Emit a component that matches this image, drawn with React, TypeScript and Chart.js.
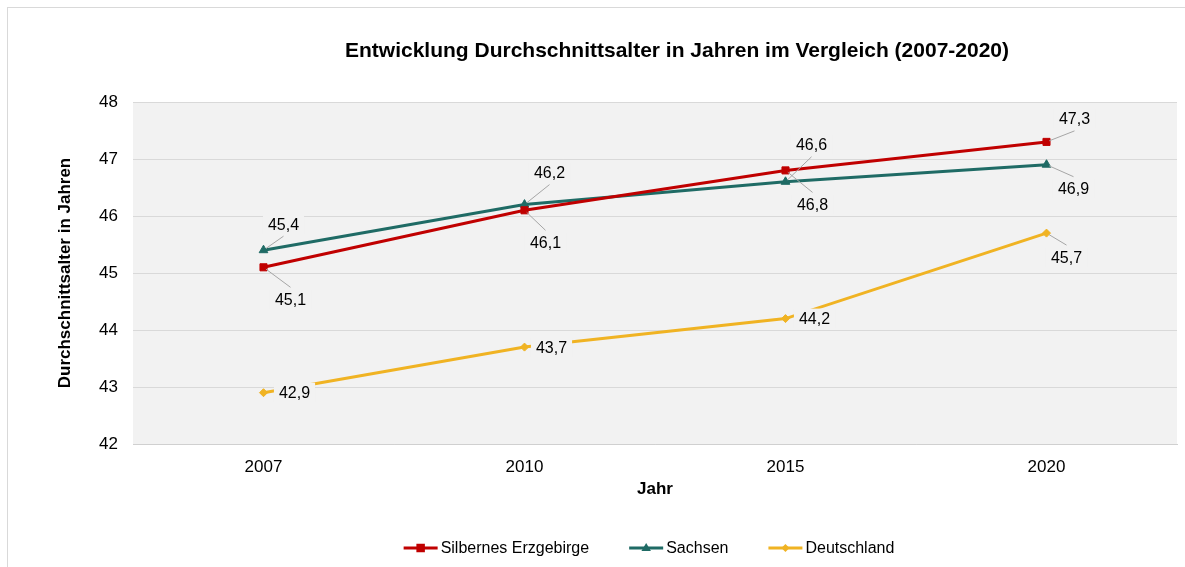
import React, { useEffect, useRef } from "react";
import { Chart, registerables } from "chart.js";

Chart.register(...registerables);

const years = ["2007", "2010", "2015", "2020"];
const silbernes = [45.1, 46.1, 46.8, 47.3];
const sachsen = [45.4, 46.2, 46.6, 46.9];
const deutschland = [42.9, 43.7, 44.2, 45.7];
const yMin = 42;
const yMax = 48;

const seriesNames = ["Silbernes Erzgebirge", "Sachsen", "Deutschland"];
const titleText = "Entwicklung Durchschnittsalter in Jahren im Vergleich (2007-2020)";
const yTitle = "Durchschnittsalter in Jahren";
const xTitle = "Jahr";

// label placement relative to point (style)
const labelOffsets = [
  [[27, 32], [21, 32], [27, 34], [28, -23]],
  [[20, -26], [25, -32], [26, -37], [27, 24]],
  [[31, 0], [27, 0], [29, 0], [20, 24]],
];

const COLORS = ["#c00000", "#1f6b65", "#f0b323"];
const STYLES = ["rect", "triangle", "rectRot"];
const RADII = [5, 5, 4];
const FONT = "'Liberation Sans', Arial, sans-serif";

const fmt = (v: number) => v.toFixed(1).replace(".", ",");

const bgPlugin = {
  id: "plotBg",
  beforeDraw(chart: any) {
    const { ctx, chartArea: a } = chart;
    ctx.save();
    ctx.fillStyle = "#f2f2f2";
    ctx.fillRect(a.left, a.top, a.right - a.left, a.bottom - a.top);
    ctx.restore();
  },
};

const titlePlugin = {
  id: "customTitle",
  afterDraw(chart: any) {
    const { ctx, chartArea: a } = chart;
    ctx.save();
    ctx.font = `bold 21px ${FONT}`;
    ctx.fillStyle = "#000";
    ctx.textAlign = "center";
    ctx.textBaseline = "middle";
    ctx.fillText(titleText, (a.left + a.right) / 2 + 22, 51);
    ctx.restore();
  },
};

const labelPlugin = {
  id: "dataLabels",
  afterDatasetsDraw(chart: any) {
    const { ctx } = chart;
    ctx.save();
    ctx.font = `16px ${FONT}`;
    chart.data.datasets.forEach((ds: any, di: number) => {
      const meta = chart.getDatasetMeta(di);
      meta.data.forEach((pt: any, i: number) => {
        const [dx, dy] = labelOffsets[di][i];
        const cx = pt.x + dx;
        const cy = pt.y + dy;
        const text = fmt(ds.data[i]);
        const w = ctx.measureText(text).width + 10;
        const h = 20;
        ctx.fillStyle = "#f2f2f2";
        ctx.fillRect(cx - w / 2, cy - h / 2, w, h);
        if (Math.abs(dy) > 10) {
          const ex = cx;
          const ey = cy - Math.sign(dy) * 12;
          const ang = Math.atan2(ey - pt.y, ex - pt.x);
          ctx.strokeStyle = "#a6a6a6";
          ctx.lineWidth = 1;
          ctx.beginPath();
          ctx.moveTo(pt.x + Math.cos(ang) * 3, pt.y + Math.sin(ang) * 3);
          ctx.lineTo(ex, ey);
          ctx.stroke();
        }
        ctx.fillStyle = "#000";
        ctx.textAlign = "center";
        ctx.textBaseline = "middle";
        ctx.fillText(text, cx, cy + 1);
      });
    });
    ctx.restore();
  },
};

function drawMarker(ctx: CanvasRenderingContext2D, style: string, r: number, x: number, y: number) {
  ctx.beginPath();
  if (style === "rect") {
    ctx.rect(x - r * 0.85, y - r * 0.85, r * 1.7, r * 1.7);
  } else if (style === "triangle") {
    ctx.moveTo(x, y - r);
    ctx.lineTo(x + r * 0.95, y + r * 0.6);
    ctx.lineTo(x - r * 0.95, y + r * 0.6);
    ctx.closePath();
  } else {
    ctx.moveTo(x, y - r);
    ctx.lineTo(x + r, y);
    ctx.lineTo(x, y + r);
    ctx.lineTo(x - r, y);
    ctx.closePath();
  }
  ctx.fill();
}

const legendPlugin = {
  id: "customLegend",
  afterDraw(chart: any) {
    const { ctx } = chart;
    ctx.save();
    ctx.font = `16px ${FONT}`;
    const lineLen = 34;
    const textGap = 3;
    const itemGap = 40;
    const widths = seriesNames.map((n) => lineLen + textGap + ctx.measureText(n).width);
    const total = widths.reduce((s, v) => s + v, 0) + itemGap * (widths.length - 1);
    let x = 649 - total / 2;
    const y = 548;
    seriesNames.forEach((name, i) => {
      ctx.strokeStyle = COLORS[i];
      ctx.lineWidth = 3;
      ctx.beginPath();
      ctx.moveTo(x, y);
      ctx.lineTo(x + lineLen, y);
      ctx.stroke();
      ctx.fillStyle = COLORS[i];
      drawMarker(ctx, STYLES[i], RADII[i], x + lineLen / 2, y);
      ctx.fillStyle = "#000";
      ctx.textAlign = "left";
      ctx.textBaseline = "middle";
      ctx.fillText(name, x + lineLen + textGap, y + 1);
      x += widths[i] + itemGap;
    });
    ctx.restore();
  },
};

export default function App() {
  const ref = useRef<HTMLCanvasElement | null>(null);
  useEffect(() => {
    if (!ref.current) return;
    const series = [silbernes, sachsen, deutschland];
    const chart = new Chart(ref.current, {
      type: "line",
      data: {
        labels: years,
        datasets: series.map((d, i) => ({
          label: seriesNames[i],
          data: d,
          borderColor: COLORS[i],
          backgroundColor: COLORS[i],
          borderWidth: 3,
          pointStyle: STYLES[i] as any,
          pointRadius: RADII[i],
          pointBorderWidth: 1,
          tension: 0,
          fill: false,
        })),
      },
      options: {
        responsive: false,
        animation: false,
        layout: { padding: { left: 50, top: 102, right: 8, bottom: 62 } },
        plugins: {
          legend: { display: false },
          title: { display: false },
          tooltip: { enabled: false },
        },
        scales: {
          x: {
            type: "category",
            offset: true,
            grid: { display: false, drawTicks: false },
            border: { display: true, color: "#d0d0d0", width: 1 },
            ticks: { color: "#000", font: { size: 17, family: FONT }, padding: 13 },
            title: {
              display: true,
              text: xTitle,
              color: "#000",
              font: { size: 17, weight: "bold", family: FONT },
              padding: { top: 4, bottom: 5 },
            },
            afterFit: (s: any) => {
              s.height = 61;
            },
          },
          y: {
            min: yMin,
            max: yMax,
            ticks: { stepSize: 1, color: "#000", font: { size: 17, family: FONT }, padding: 15 },
            grid: { color: "#d9d9d9", drawTicks: false },
            border: { display: false },
            title: {
              display: true,
              text: yTitle,
              color: "#000",
              font: { size: 17, weight: "bold", family: FONT },
              padding: { top: 5, bottom: 0 },
            },
            afterFit: (s: any) => {
              s.width = 83;
            },
          },
        },
      } as any,
      plugins: [bgPlugin, labelPlugin, titlePlugin, legendPlugin],
    });
    return () => chart.destroy();
  }, []);
  return (
    <div
      style={{
        position: "fixed",
        left: 0,
        top: 0,
        width: 1185,
        height: 567,
        background: "#fff",
        overflow: "hidden",
      }}
    >
      <div
        style={{
          position: "absolute",
          left: 7,
          top: 7,
          width: 1200,
          height: 600,
          border: "1px solid #d9d9d9",
          boxSizing: "border-box",
        }}
      />
      <canvas ref={ref} width={1185} height={567} style={{ position: "absolute", left: 0, top: 0, display: "block" }} />
    </div>
  );
}
